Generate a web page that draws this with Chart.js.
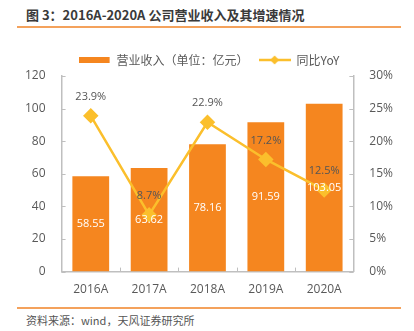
<!DOCTYPE html>
<html lang="zh">
<head>
<meta charset="UTF-8">
<title>公司营业收入及其增速情况</title>
<script src="https://cdn.jsdelivr.net/npm/chart.js"></script>
<style>
    body {
        margin: 0;
        width: 414px;
        height: 331px;
        background: #fff;
        font-family: "Noto Sans CJK SC", "Noto Sans", sans-serif;
        position: relative;
        overflow: hidden;
    }
    .title {
        position: absolute;
        left: 26px;
        top: 5px;
        font-size: 13px;
        font-weight: bold;
        color: #3a3a3a;
    }
    .line-top, .line-bottom {
        position: absolute;
        left: 17px;
        width: 384px;
        height: 1.5px;
        background: #f4a25c;
    }
    .line-top { top: 26px; }
    .line-bottom { top: 307px; }
    .chart-box {
        position: absolute;
        left: 17px;
        top: 44px;
        width: 384px;
        height: 256px;
    }
    .source {
        position: absolute;
        left: 26px;
        top: 312px;
        font-size: 11px;
        color: #555;
    }
</style>
</head>
<body>
<div class="title">图 3：2016A-2020A 公司营业收入及其增速情况</div>
<div class="line-top"></div>
<div class="chart-box"><canvas id="revChart"></canvas></div>
<div class="line-bottom"></div>
<div class="source">资料来源：wind，天风证券研究所</div>

<script>
    // données
    const years = ['2016A', '2017A', '2018A', '2019A', '2020A'];
    const revenue = [58.55, 63.62, 78.16, 91.59, 103.05];
    const growth = [23.9, 8.7, 22.9, 17.2, 12.5];
    const leftTicks = [0, 20, 40, 60, 80, 100, 120];
    const rightTicks = [0, 5, 10, 15, 20, 25, 30];

    const barColor = '#f5861f';
    const lineColor = '#fbbf2c';
    const axisColor = '#bfbfbf';

    // petites icônes de légende
    function legendIcon(kind) {
        const c = document.createElement('canvas');
        c.width = 32; c.height = 10;
        const g = c.getContext('2d');
        if (kind === 'bar') {
            g.fillStyle = barColor;
            g.fillRect(0, 2, 31, 6);
        } else {
            g.strokeStyle = lineColor;
            g.lineWidth = 2.5;
            g.beginPath(); g.moveTo(0, 5); g.lineTo(32, 5); g.stroke();
            g.fillStyle = lineColor;
            g.beginPath();
            g.moveTo(16, 0.5); g.lineTo(20.5, 5); g.lineTo(16, 9.5); g.lineTo(11.5, 5);
            g.closePath(); g.fill();
        }
        return c;
    }

    // étiquettes des valeurs + petits traits des axes
    const valueLabels = {
        id: 'valueLabels',
        afterDatasetsDraw(chart) {
            const ctx = chart.ctx;
            const area = chart.chartArea;
            ctx.save();
            ctx.strokeStyle = axisColor;
            ctx.lineWidth = 1;
            chart.scales.y.ticks.forEach((t, i) => {
                const py = Math.round(chart.scales.y.getPixelForTick(i)) + 0.5;
                ctx.beginPath(); ctx.moveTo(area.left, py); ctx.lineTo(area.left + 4, py); ctx.stroke();
            });
            chart.scales.y1.ticks.forEach((t, i) => {
                const py = Math.round(chart.scales.y1.getPixelForTick(i)) + 0.5;
                ctx.beginPath(); ctx.moveTo(area.right, py); ctx.lineTo(area.right - 4, py); ctx.stroke();
            });
            const xs = chart.scales.x;
            const step = (area.right - area.left) / years.length;
            for (let i = 1; i < years.length; i++) {
                const px = Math.round(area.left + step * i) + 0.5;
                ctx.beginPath(); ctx.moveTo(px, area.bottom); ctx.lineTo(px, area.bottom - 4); ctx.stroke();
            }

            ctx.font = '11px "Open Sans", "DejaVu Sans", sans-serif';
            ctx.textAlign = 'center';
            ctx.textBaseline = 'middle';
            chart.getDatasetMeta(1).data.forEach((bar, i) => {
                ctx.fillStyle = '#ffffff';
                ctx.fillText(revenue[i].toFixed(2), bar.x, (bar.y + bar.base) / 2);
            });
            chart.getDatasetMeta(0).data.forEach((pt, i) => {
                ctx.fillStyle = '#555555';
                ctx.fillText(growth[i].toFixed(1) + '%', pt.x, pt.y - 19);
            });
            ctx.restore();
        }
    };

    const ctx = document.getElementById('revChart').getContext('2d');
    const revChart = new Chart(ctx, {
        data: {
            labels: years,
            datasets: [
                {
                    type: 'line',
                    label: '同比YoY',
                    data: growth,
                    yAxisID: 'y1',
                    borderColor: lineColor,
                    backgroundColor: lineColor,
                    borderWidth: 2.5,
                    pointStyle: 'rectRot',
                    pointRadius: 6,
                    pointHoverRadius: 6,
                    tension: 0,
                    order: 0
                },
                {
                    type: 'bar',
                    label: '营业收入（单位：亿元）',
                    data: revenue,
                    yAxisID: 'y',
                    backgroundColor: barColor,
                    categoryPercentage: 0.63,
                    barPercentage: 1,
                    order: 1
                }
            ]
        },
        options: {
            responsive: true,
            maintainAspectRatio: false,
            animation: false,
            layout: { padding: { left: 0, right: 0, top: 0, bottom: 0 } },
            plugins: {
                legend: {
                    display: true,
                    position: 'top',
                    labels: {
                        color: '#595959',
                        font: { size: 12, family: '"Noto Sans CJK SC", sans-serif' },
                        usePointStyle: true,
                        pointStyleWidth: 32,
                        padding: 10,
                        generateLabels(chart) {
                            return [
                                { text: '营业收入（单位：亿元）', pointStyle: legendIcon('bar'), fontColor: '#595959', lineWidth: 0, datasetIndex: 1 },
                                { text: '同比YoY', pointStyle: legendIcon('line'), fontColor: '#595959', lineWidth: 0, datasetIndex: 0 }
                            ];
                        }
                    }
                },
                tooltip: { enabled: false }
            },
            scales: {
                x: {
                    grid: { display: false },
                    border: { color: axisColor, width: 1.5 },
                    ticks: { color: '#595959', font: { size: 12, family: '"Open Sans", sans-serif' } }
                },
                y: {
                    position: 'left',
                    min: 0,
                    max: 120,
                    afterBuildTicks: axis => { axis.ticks = leftTicks.map(v => ({ value: v })); },
                    grid: { display: false },
                    border: { color: axisColor, width: 1.5 },
                    ticks: { color: '#595959', padding: 8, font: { size: 12, family: '"Open Sans", sans-serif' } }
                },
                y1: {
                    position: 'right',
                    min: 0,
                    max: 30,
                    afterBuildTicks: axis => { axis.ticks = rightTicks.map(v => ({ value: v })); },
                    grid: { display: false },
                    border: { color: axisColor, width: 1.5 },
                    ticks: {
                        color: '#595959',
                        padding: 8,
                        font: { size: 12, family: '"Open Sans", sans-serif' },
                        callback: v => v + '%'
                    }
                }
            }
        },
        plugins: [valueLabels]
    });
</script>
</body>
</html>
